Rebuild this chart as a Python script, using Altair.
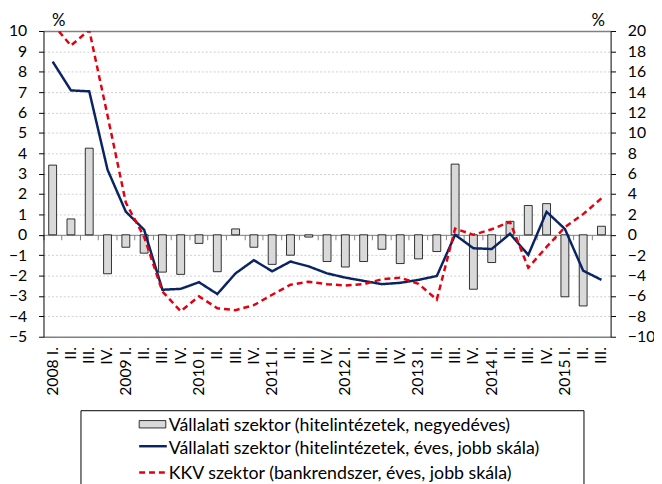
import altair as alt
import pandas as pd

quarters = [
    "2008 I.", "2008 II.", "2008 III.", "2008 IV.",
    "2009 I.", "2009 II.", "2009 III.", "2009 IV.",
    "2010 I.", "2010 II.", "2010 III.", "2010 IV.",
    "2011 I.", "2011 II.", "2011 III.", "2011 IV.",
    "2012 I.", "2012 II.", "2012 III.", "2012 IV.",
    "2013 I.", "2013 II.", "2013 III.", "2013 IV.",
    "2014 I.", "2014 II.", "2014 III.", "2014 IV.",
    "2015 I.", "2015 II.", "2015 III.",
]
bar_quarterly = [3.42, 0.78, 4.25, -1.91, -0.61, -0.90, -1.83, -1.94, -0.42, -1.81,
                 0.29, -0.61, -1.45, -1.00, -0.11, -1.31, -1.58, -1.31, -0.71, -1.41,
                 -1.18, -0.82, 3.47, -2.67, -1.36, 0.66, 1.44, 1.53, -3.04, -3.49, 0.42]
navy_annual = [17.0, 14.17, 14.08, 6.39, 2.27, 0.5, -5.39, -5.30, -4.65, -5.81,
               -3.78, -2.49, -3.58, -2.62, -3.10, -3.78, -4.20, -4.52, -4.84, -4.71,
               -4.42, -4.04, 0.0, -1.32, -1.39, 0.10, -1.97, 2.26, 0.58, -3.52, -4.42]
red_sme = [20.7, 18.57, 20.1, 11.7, 3.16, -0.2, -5.56, -7.5, -6.04, -7.2,
           -7.39, -6.9, -5.88, -4.9, -4.6, -4.84, -4.97, -4.84, -4.36, -4.2,
           -4.81, -6.36, 0.61, 0.0, 0.55, 1.26, -3.23, -1.19, 0.74, 2.03, 3.58]
legend_labels = [
    "Vállalati szektor (hitelintézetek, negyedéves)",
    "Vállalati szektor (hitelintézetek, éves, jobb skála)",
    "KKV szektor (bankrendszer, éves, jobb skála)",
]
left_ticks = list(range(-5, 11))
right_ticks = list(range(-10, 21, 2))

FONT = "Lato"
NAVY = "#0a2463"
RED = "#e3000f"
W, H = 575, 310

df = pd.DataFrame({"q": quarters, "bar": bar_quarterly, "navy": navy_annual, "red": red_sme})

xscale = alt.Scale(paddingInner=0, paddingOuter=0)
frame_test = "datum.value == 10 || datum.value == -5"

bars = alt.Chart(df).mark_bar(size=8, fill="#d9d9d9", stroke="#000000", strokeWidth=0.8).encode(
    x=alt.X("q:N", sort=quarters, scale=xscale, title=None,
            axis=alt.Axis(orient="bottom", offset=-H * 5 / 15, labels=False, ticks=True,
                          tickSize=5, tickColor="#808080", domainColor="#808080",
                          bandPosition=0, grid=False)),
    y=alt.Y("bar:Q", scale=alt.Scale(domain=[-5, 10], nice=False, zero=False), title="%",
            axis=alt.Axis(orient="left", values=left_ticks, tickSize=5, tickColor="#000000",
                          domainColor="#000000", labelPadding=12, grid=True,
                          gridColor={"condition": {"test": frame_test, "value": "#808080"},
                                     "value": "#cfcfcf"},
                          gridDash={"condition": {"test": frame_test, "value": [1, 0]},
                                    "value": [2, 2]},
                          gridWidth={"condition": {"test": frame_test, "value": 1.5},
                                     "value": 1},
                          titleAngle=0, titleX=15, titleY=-6,
                          titleAlign="center", titleBaseline="alphabetic",
                          titleFontWeight="normal", titleFontSize=17, titleFont=FONT)),
)

lines = alt.Chart(df).transform_fold(["navy", "red"], as_=["series", "val"]).mark_line(
    strokeWidth=2.5, clip=True
).encode(
    x=alt.X("q:N", sort=quarters, scale=xscale, title=None,
            axis=alt.Axis(orient="bottom", labelAngle=-90, ticks=False, domain=False,
                          labelPadding=10, grid=False,
                          labelExpr="slice(datum.value, -3) == ' I.' ? datum.value : split(datum.value, ' ')[1]")),
    y=alt.Y("val:Q", scale=alt.Scale(domain=[-10, 20], nice=False, zero=False), title="%",
            axis=alt.Axis(orient="right", values=right_ticks, tickSize=5, tickColor="#000000",
                          domainColor="#000000", labelPadding=12, grid=False,
                          titleAngle=0, titleX=-13, titleY=-6, titleAlign="center",
                          titleBaseline="alphabetic", titleFontWeight="normal",
                          titleFontSize=17, titleFont=FONT)),
    color=alt.Color("series:N", scale=alt.Scale(domain=["navy", "red"], range=[NAVY, RED]), legend=None),
    strokeDash=alt.StrokeDash("series:N", scale=alt.Scale(domain=["navy", "red"], range=[[1, 0], [6, 4]]), legend=None),
)

one = pd.DataFrame({"k": [0]})
box = alt.Chart(one).mark_rect(fill="white", stroke="black", strokeWidth=1).encode(
    x=alt.value(38), x2=alt.value(548), y=alt.value(385), y2=alt.value(470))
swatch = alt.Chart(one).mark_rect(fill="#d9d9d9", stroke="#000000", strokeWidth=0.8).encode(
    x=alt.value(97), x2=alt.value(124), y=alt.value(395), y2=alt.value(402.5))
leg_navy = alt.Chart(one).mark_rule(color=NAVY, strokeWidth=2.5).encode(
    x=alt.value(97), x2=alt.value(125), y=alt.value(421))
leg_red = alt.Chart(one).mark_rule(color=RED, strokeWidth=2.5, strokeDash=[6, 4]).encode(
    x=alt.value(97), x2=alt.value(125), y=alt.value(447.7))
texts = []
for lab, yy in zip(legend_labels, [400.5, 424, 449]):
    texts.append(
        alt.Chart(pd.DataFrame({"t": [lab]})).mark_text(
            align="left", baseline="middle", font=FONT, fontSize=18, color="black"
        ).encode(text="t:N", x=alt.value(127), y=alt.value(yy))
    )

chart = alt.layer(bars, lines, box, swatch, leg_navy, leg_red, *texts).resolve_scale(
    y="independent"
).resolve_axis(x="independent").properties(
    width=W, height=H,
    autosize=alt.AutoSizeParams(type="none"),
    padding={"left": 36, "top": 20, "right": 44, "bottom": 146},
).configure_axis(
    labelFont=FONT, labelFontSize=16, labelColor="black"
).configure_view(stroke=None)

chart.save("out.html", embed_options={"renderer": "svg", "actions": False})
